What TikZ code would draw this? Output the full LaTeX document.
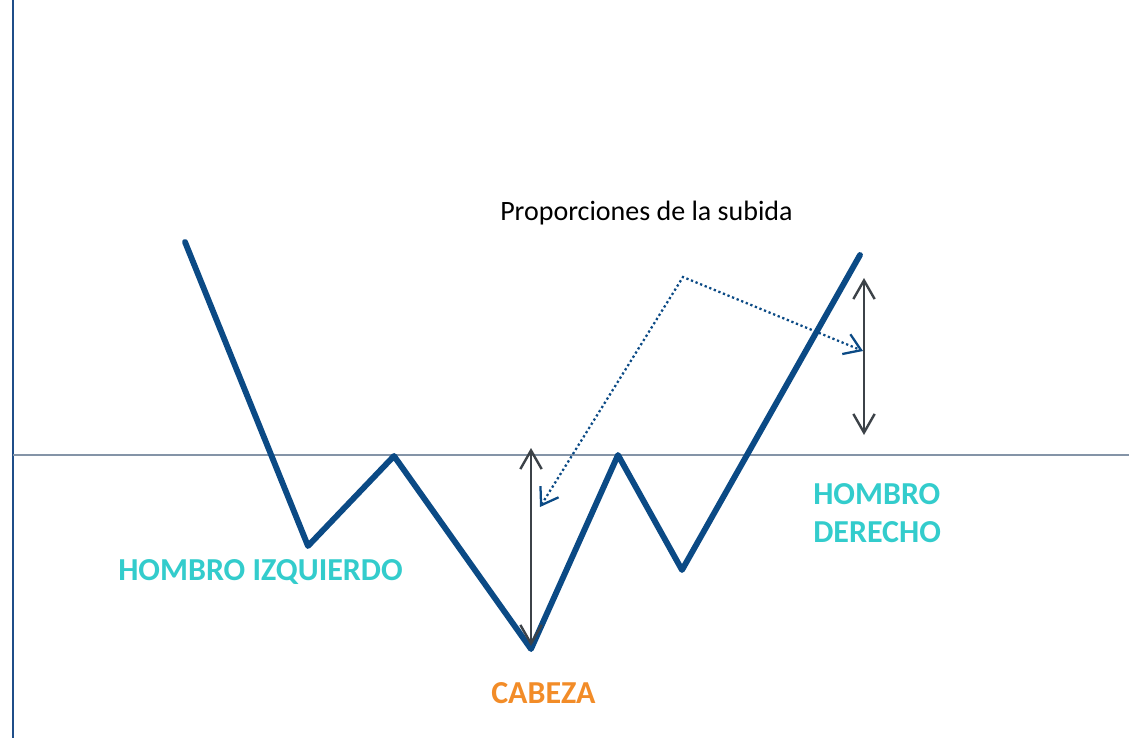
\documentclass[tikz,border=0pt]{standalone}
\usepackage{fontspec}
\setmainfont{Carlito}
\usetikzlibrary{arrows.meta}
\definecolor{pblue}{HTML}{0B4A85}
\definecolor{axblue}{HTML}{1F4E89}
\definecolor{hgray}{HTML}{8494A7}
\definecolor{dgray}{HTML}{3C4248}
\definecolor{teal}{HTML}{33CCCC}
\definecolor{orng}{HTML}{F28C28}
\tikzset{
  price/.style={draw=pblue,line width=4.4pt,line join=round,line cap=round},
  meas/.style={draw=dgray,line width=1.8pt,{Straight Barb[length=14pt,width=16pt,line width=1.8pt]}-{Straight Barb[length=14pt,width=16pt,line width=1.8pt]}},
  dotarrow/.style={draw=pblue,line width=1.7pt,dotted,{Straight Barb[length=12pt,width=16pt,line width=1.7pt]}-{Straight Barb[length=12pt,width=16pt,line width=1.7pt]}},
  lbl/.style={inner sep=0pt,anchor=base west,font=\fontsize{24}{29}\selectfont\bfseries,text=teal},
}
\begin{document}
\begin{tikzpicture}[x=0.75pt,y=-0.75pt]
\useasboundingbox (0,0) rectangle (1129,738);
% axes
\coordinate (axT) at (13,0);
\coordinate (axB) at (13,738);
\coordinate (hL) at (13,455);
\coordinate (hR) at (1129,455);
\draw[axblue,line width=2.2pt] (axT) -- (axB);
\draw[hgray,line width=2pt] (hL) -- (hR);
% price path
\coordinate (p0) at (185,242);
\coordinate (p1) at (308,546);
\coordinate (p2) at (394,456);
\coordinate (p3) at (531,649);
\coordinate (p4) at (618,455);
\coordinate (p5) at (682,570);
\coordinate (p6) at (860,255);
\draw[price] (p0) -- (p1) -- (p2) -- (p3) -- (p4) -- (p5) -- (p6);
% measurement arrows
\coordinate (hT) at (531,448);
\coordinate (hB) at (531,646);
\draw[meas] (hB) -- (hT);
\coordinate (rT) at (864,278);
\coordinate (rB) at (864,435);
\draw[meas] (rT) -- (rB);
% dotted connector
\coordinate (dL) at (540,507);
\coordinate (dC) at (683,277);
\coordinate (dR) at (863,351);
\draw[dotarrow] (dL) -- (dC) -- (dR);
% texts
\node[inner sep=0pt,anchor=base west,font=\fontsize{21}{25}\selectfont] (title) at (500,221) {Proporciones de la subida};
\node[lbl] (hi) at (118,580) {HOMBRO IZQUIERDO};
\node[lbl] (hd1) at (813,504) {HOMBRO};
\node[lbl] (hd2) at (813,542) {DERECHO};
\node[lbl,text=orng] (cab) at (491,703) {CABEZA};
\end{tikzpicture}
\end{document}
